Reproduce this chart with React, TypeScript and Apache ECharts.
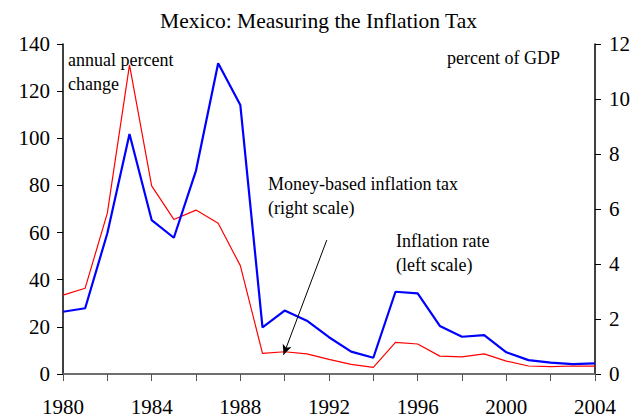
import React, { useEffect, useRef } from "react";
import * as echarts from "echarts";

const years = [1980, 1981, 1982, 1983, 1984, 1985, 1986, 1987, 1988, 1989, 1990, 1991, 1992, 1993, 1994, 1995, 1996, 1997, 1998, 1999, 2000, 2001, 2002, 2003, 2004];
// Inflation rate, annual percent change (left scale)
const inflationRate = [26.4, 27.9, 59.7, 101.8, 65.3, 57.8, 86.3, 131.8, 114.1, 19.8, 26.9, 22.6, 15.6, 9.5, 6.9, 34.9, 34.2, 20.4, 15.8, 16.5, 9.2, 5.9, 4.8, 4.2, 4.5];
// Money-based inflation tax, percent of GDP (right scale)
const inflationTax = [2.87, 3.12, 5.85, 11.24, 6.84, 5.62, 5.96, 5.48, 3.94, 0.75, 0.81, 0.73, 0.53, 0.35, 0.24, 1.15, 1.09, 0.65, 0.62, 0.73, 0.47, 0.29, 0.27, 0.29, 0.29];
const leftTicks = { min: 0, max: 140, interval: 20 };
const rightTicks = { min: 0, max: 12, interval: 2 };
const xTicks = { min: 1980, max: 2004, interval: 2, labelEvery: 4 };

const FONT = "Liberation Serif";

export default function App() {
  const ref = useRef<HTMLDivElement>(null);
  useEffect(() => {
    if (!ref.current) return;
    const chart = echarts.init(ref.current, null, { renderer: "svg" });
    const note = (extra: any, text: string) => ({
      type: "text",
      ...extra,
      style: { text, fontSize: 18, fontFamily: FONT, fill: "#000", lineHeight: 24 },
    });
    chart.setOption({
      animation: false,
      backgroundColor: "#fff",
      textStyle: { fontFamily: FONT },
      title: {
        text: "Mexico: Measuring the Inflation Tax",
        left: "center",
        top: 5,
        textStyle: { fontFamily: FONT, color: "#000", fontSize: 21.5, fontWeight: "normal" },
      },
      grid: { left: 63, right: 42, top: 44, bottom: 44, containLabel: false, outerBoundsMode: "none" },
      xAxis: [
        {
          type: "value",
          min: xTicks.min,
          max: xTicks.max,
          interval: xTicks.interval,
          axisLine: { show: true, lineStyle: { color: "#000", width: 1.5 } },
          axisTick: { show: true, length: 7, lineStyle: { color: "#555" } },
          splitLine: { show: false },
          axisLabel: {
            fontFamily: FONT,
            color: "#000",
            fontSize: 21,
            margin: 22,
            formatter: (v: number) => ((v - xTicks.min) % xTicks.labelEvery === 0 ? String(v) : ""),
          },
        },
        {
          type: "value",
          position: "top",
          min: xTicks.min,
          max: xTicks.max,
          axisLine: { show: true, lineStyle: { color: "#808080", width: 1.5 } },
          axisTick: { show: false },
          axisLabel: { show: false },
          splitLine: { show: false },
        },
      ],
      yAxis: [
        {
          type: "value",
          ...leftTicks,
          position: "left",
          axisLine: { show: true, lineStyle: { color: "#000", width: 1.5 } },
          axisTick: { show: true, length: 6, lineStyle: { color: "#000" } },
          splitLine: { show: false },
          axisLabel: { fontFamily: FONT, color: "#000", fontSize: 21, margin: 13 },
        },
        {
          type: "value",
          ...rightTicks,
          position: "right",
          axisLine: { show: true, lineStyle: { color: "#000", width: 1.5 } },
          axisTick: { show: true, length: 6, lineStyle: { color: "#000" } },
          splitLine: { show: false },
          axisLabel: { fontFamily: FONT, color: "#000", fontSize: 21, margin: 14 },
        },
      ],
      series: [
        {
          name: "Inflation tax",
          type: "line",
          yAxisIndex: 1,
          symbol: "none",
          data: years.map((y, i) => [y, inflationTax[i]]),
          lineStyle: { color: "#ff0000", width: 1.2 },
          itemStyle: { color: "#ff0000" },
          z: 2,
          markLine: {
            silent: true,
            symbol: ["none", "arrow"],
            symbolSize: [7, 10],
            label: { show: false },
            lineStyle: { color: "#000", width: 1, type: "solid" },
            data: [[{ coord: [1991.9, 4.87] }, { coord: [1989.95, 0.7] }]],
          },
        },
        {
          name: "Inflation rate",
          type: "line",
          yAxisIndex: 0,
          symbol: "none",
          data: years.map((y, i) => [y, inflationRate[i]]),
          lineStyle: { color: "#0000ff", width: 2.2 },
          itemStyle: { color: "#0000ff" },
          z: 3,
        },
      ],
      graphic: [
        note({ left: 68, top: 48 }, "annual percent\nchange"),
        note({ right: 77, top: 46 }, "percent of GDP"),
        note({ left: 268, top: 172 }, "Money-based inflation tax\n(right scale)"),
        note({ left: 396, top: 229 }, "Inflation rate\n(left scale)"),
      ],
    });
    return () => chart.dispose();
  }, []);
  return <div ref={ref} style={{ width: 637, height: 418, position: "absolute", left: 0, top: 0 }} />;
}
